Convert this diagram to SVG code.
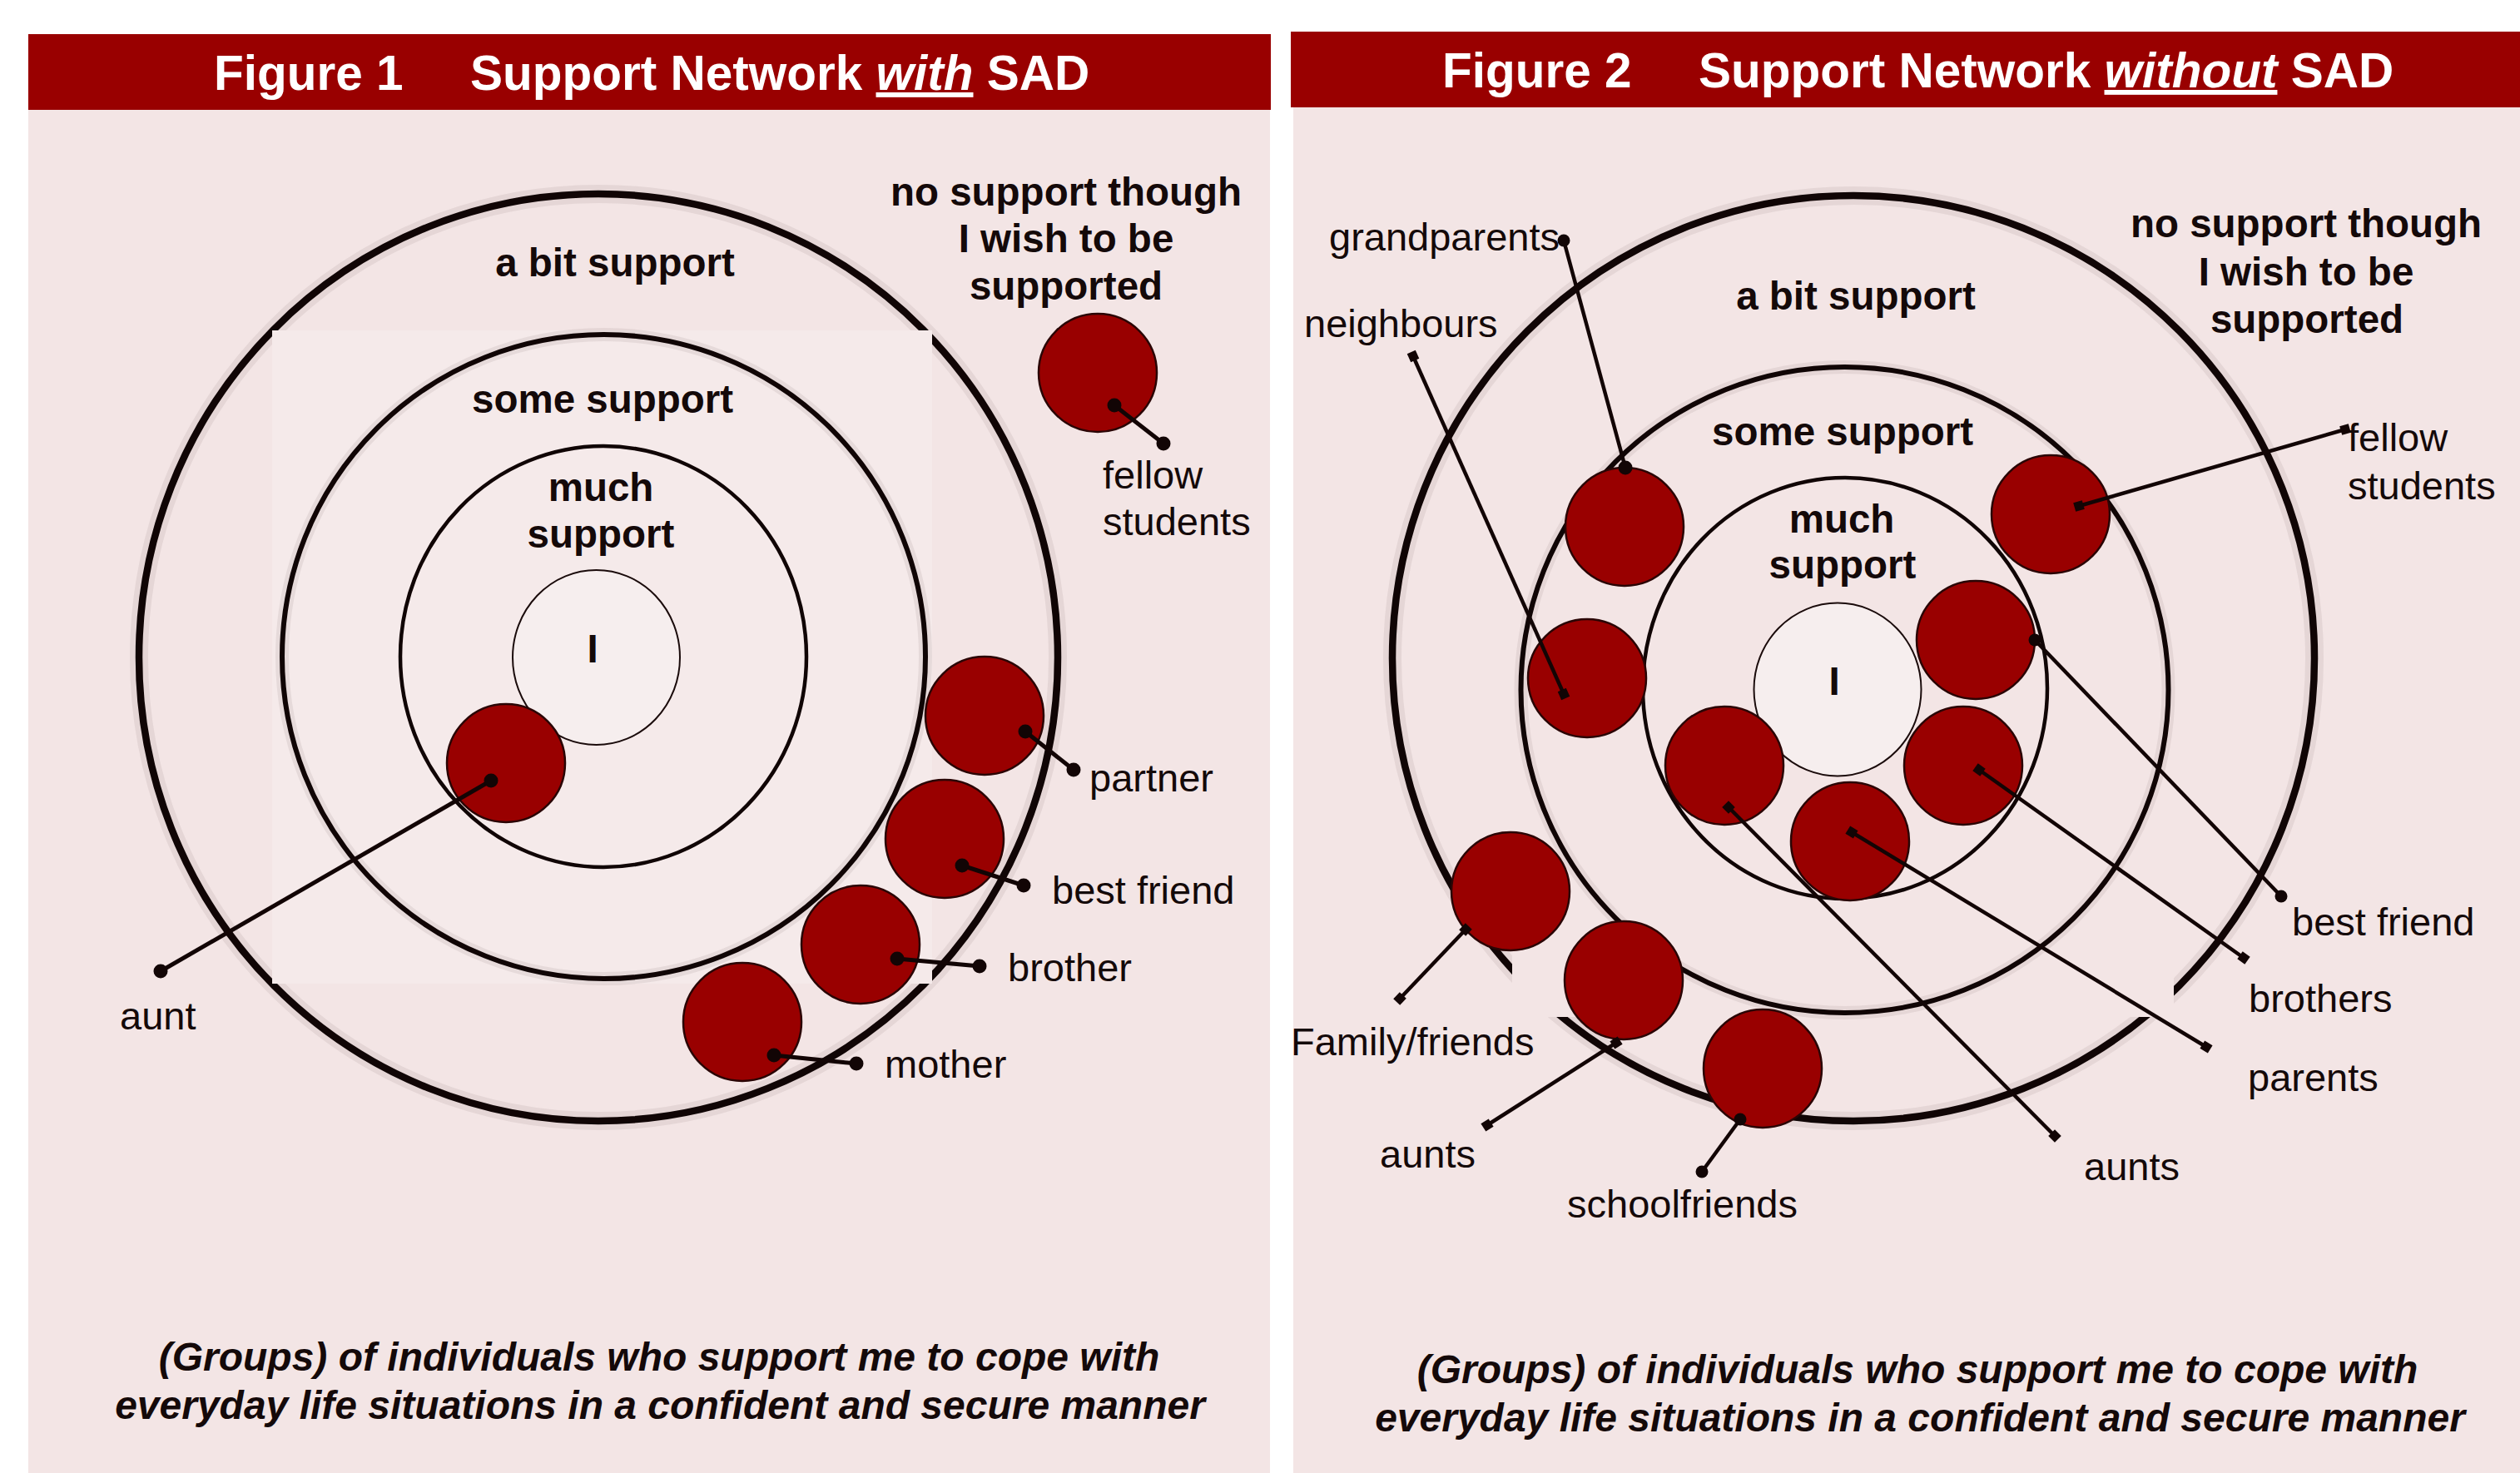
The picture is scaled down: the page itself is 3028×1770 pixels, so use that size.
<svg xmlns="http://www.w3.org/2000/svg" width="3028" height="1770" viewBox="0 0 3028 1770">
  <style>
    .panel { fill: #F3E5E5; }
    .patch { fill: #F5EAEA; }
    .bar { fill: #990000; }
    .hdr { font-family: "Liberation Sans", Arial, sans-serif; font-weight: bold; font-size: 58.5px; fill: #FFFFFF; }
    .zone { font-family: "Liberation Sans", Arial, sans-serif; font-weight: bold; font-size: 47.5px; fill: #140909; text-anchor: middle; }
    .lbl { font-family: "Liberation Sans", Arial, sans-serif; font-size: 47px; fill: #140909; }
    .cap { font-family: "Liberation Sans", Arial, sans-serif; font-weight: bold; font-style: italic; font-size: 48px; fill: #140909; text-anchor: middle; }
    .ring { fill: none; stroke: #100505; }
    .halo { fill: none; stroke: #5a4444; stroke-opacity: 0.09; }
    .self { fill: #F6EEEE; stroke: #1a0b0b; stroke-width: 2; }
    .person { fill: #990000; stroke: #2a0505; stroke-width: 2.5; }
    .link1 { fill: none; stroke: #120505; stroke-width: 5; }
    .link2 { fill: none; stroke: #120505; stroke-width: 4.5; }
  </style>
  <defs>
    <marker id="dotL" viewBox="-10 -10 20 20" markerWidth="20" markerHeight="20" markerUnits="userSpaceOnUse" refX="0" refY="0">
      <circle r="8.5" fill="#120505"/>
    </marker>
    <marker id="dotS" viewBox="-10 -10 20 20" markerWidth="20" markerHeight="20" markerUnits="userSpaceOnUse" refX="0" refY="0">
      <circle r="7.5" fill="#120505"/>
    </marker>
    <marker id="sq" viewBox="-8 -8 16 16" markerWidth="16" markerHeight="16" markerUnits="userSpaceOnUse" refX="0" refY="0" orient="auto">
      <rect x="-5.5" y="-5.5" width="11" height="11" fill="#120505"/>
    </marker>
  </defs>

  <rect width="3028" height="1770" fill="#FFFFFF"/>

  <!-- ===== Figure 1 ===== -->
  <g id="figure1">
    <rect class="panel" x="34" y="132" width="1492" height="1638"/>
    <g id="fig1-header">
      <rect class="bar" x="34" y="41" width="1493" height="91"/>
      <text class="hdr" x="257" y="108">Figure 1</text>
      <text class="hdr" x="565" y="108">Support Network <tspan font-style="italic" text-decoration="underline">with</tspan> SAD</text>
    </g>

    <g id="fig1-zone-abit">
      <ellipse class="halo" cx="719" cy="790" rx="552" ry="557" stroke-width="22"/>
      <ellipse class="ring" cx="719" cy="790" rx="552" ry="557" stroke-width="8.5"/>
      <text class="zone" x="739" y="332">a bit support</text>
    </g>
    <rect class="patch" x="327" y="397" width="793" height="785"/>
    <g id="fig1-zone-some">
      <ellipse class="halo" cx="725.5" cy="789" rx="386.5" ry="387" stroke-width="16"/>
      <ellipse class="ring" cx="725.5" cy="789" rx="386.5" ry="387" stroke-width="6"/>
      <text class="zone" x="724" y="496">some support</text>
    </g>
    <g id="fig1-zone-much">
      <ellipse class="ring" cx="725" cy="789" rx="244" ry="253" stroke-width="4.5"/>
      <text class="zone" x="722" y="602">much</text>
      <text class="zone" x="722" y="658">support</text>
    </g>
    <g id="fig1-self">
      <ellipse class="self" cx="716.5" cy="790" rx="100.5" ry="105"/>
      <text class="zone" x="712" y="796">I</text>
    </g>
    <g id="fig1-nosupport">
      <text class="zone" x="1281" y="247">no support though</text>
      <text class="zone" x="1281" y="303">I wish to be</text>
      <text class="zone" x="1281" y="360">supported</text>
    </g>

    <g id="fig1-aunt">
      <circle class="person" cx="608" cy="917" r="71"/>
      <text class="lbl" x="144" y="1237">aunt</text>
    </g>
    <g id="fig1-fellow-students">
      <circle class="person" cx="1319" cy="448" r="71"/>
      <text class="lbl" x="1325" y="587">fellow</text>
      <text class="lbl" x="1325" y="643">students</text>
    </g>
    <g id="fig1-partner">
      <circle class="person" cx="1183" cy="860" r="71"/>
      <text class="lbl" x="1309" y="951">partner</text>
    </g>
    <g id="fig1-best-friend">
      <circle class="person" cx="1135" cy="1008" r="71"/>
      <text class="lbl" x="1264" y="1086">best friend</text>
    </g>
    <g id="fig1-brother">
      <circle class="person" cx="1034" cy="1135" r="71"/>
      <text class="lbl" x="1211" y="1179">brother</text>
    </g>
    <g id="fig1-mother">
      <circle class="person" cx="892" cy="1228" r="71"/>
      <text class="lbl" x="1063" y="1295">mother</text>
    </g>

    <g id="fig1-connectors">
      <line class="link1" x1="590" y1="938" x2="193" y2="1167" marker-start="url(#dotL)" marker-end="url(#dotL)"/>
      <line class="link1" x1="1339" y1="487" x2="1398" y2="533" marker-start="url(#dotL)" marker-end="url(#dotL)"/>
      <line class="link1" x1="1232" y1="879" x2="1290" y2="925" marker-start="url(#dotL)" marker-end="url(#dotL)"/>
      <line class="link1" x1="1156" y1="1040" x2="1230" y2="1064" marker-start="url(#dotL)" marker-end="url(#dotL)"/>
      <line class="link1" x1="1078" y1="1152" x2="1177" y2="1161" marker-start="url(#dotL)" marker-end="url(#dotL)"/>
      <line class="link1" x1="930" y1="1268" x2="1029" y2="1278" marker-start="url(#dotL)" marker-end="url(#dotL)"/>
    </g>

    <g id="fig1-caption">
      <text class="cap" x="792" y="1647">(Groups) of individuals who support me to cope with</text>
      <text class="cap" x="793" y="1705">everyday life situations in a confident and secure manner</text>
    </g>
  </g>

  <!-- ===== Figure 2 ===== -->
  <g id="figure2">
    <rect class="panel" x="1554" y="129" width="1474" height="1641"/>
    <g id="fig2-header">
      <rect class="bar" x="1551" y="38" width="1477" height="91"/>
      <text class="hdr" x="1733" y="105">Figure 2</text>
      <text class="hdr" x="2041" y="105">Support Network <tspan font-style="italic" text-decoration="underline">without</tspan> SAD</text>
    </g>

    <g id="fig2-zone-abit">
      <ellipse class="halo" cx="2227" cy="791" rx="554" ry="556" stroke-width="22"/>
      <ellipse class="ring" cx="2227" cy="791" rx="554" ry="556" stroke-width="8.5"/>
      <text class="zone" x="2230" y="372">a bit support</text>
    </g>
    <rect class="panel" x="1817" y="1100" width="795" height="122"/>
    <g id="fig2-zone-some">
      <ellipse class="halo" cx="2216.5" cy="829" rx="389" ry="388" stroke-width="16"/>
      <ellipse class="ring" cx="2216.5" cy="829" rx="389" ry="388" stroke-width="6"/>
      <text class="zone" x="2214" y="535">some support</text>
    </g>
    <g id="fig2-zone-much">
      <ellipse class="ring" cx="2217" cy="827" rx="243" ry="253" stroke-width="4.5"/>
      <text class="zone" x="2213" y="640">much</text>
      <text class="zone" x="2214" y="695">support</text>
    </g>
    <g id="fig2-self">
      <ellipse class="self" cx="2208" cy="828.5" rx="100.5" ry="104"/>
      <text class="zone" x="2204" y="835">I</text>
    </g>
    <g id="fig2-nosupport">
      <text class="zone" x="2771" y="285">no support though</text>
      <text class="zone" x="2771" y="343">I wish to be</text>
      <text class="zone" x="2772" y="400">supported</text>
    </g>

    <g id="fig2-grandparents">
      <circle class="person" cx="1952" cy="633" r="71"/>
      <text class="lbl" x="1597" y="301">grandparents</text>
    </g>
    <g id="fig2-neighbours">
      <circle class="person" cx="1907" cy="815" r="71"/>
      <text class="lbl" x="1567" y="405">neighbours</text>
    </g>
    <g id="fig2-fellow-students">
      <circle class="person" cx="2464" cy="618" r="71"/>
      <text class="lbl" x="2821" y="542">fellow</text>
      <text class="lbl" x="2821" y="600">students</text>
    </g>
    <g id="fig2-best-friend">
      <circle class="person" cx="2374" cy="769" r="71"/>
      <text class="lbl" x="2754" y="1124">best friend</text>
    </g>
    <g id="fig2-brothers">
      <circle class="person" cx="2359" cy="920" r="71"/>
      <text class="lbl" x="2702" y="1216">brothers</text>
    </g>
    <g id="fig2-parents">
      <circle class="person" cx="2223" cy="1011" r="71"/>
      <text class="lbl" x="2701" y="1311">parents</text>
    </g>
    <g id="fig2-aunts-inner">
      <circle class="person" cx="2072" cy="920" r="71"/>
      <text class="lbl" x="2504" y="1418">aunts</text>
    </g>
    <g id="fig2-family-friends">
      <circle class="person" cx="1815" cy="1071" r="71"/>
      <text class="lbl" x="1551" y="1268">Family/friends</text>
    </g>
    <g id="fig2-aunts-outer">
      <circle class="person" cx="1951" cy="1178" r="71"/>
      <text class="lbl" x="1658" y="1403">aunts</text>
    </g>
    <g id="fig2-schoolfriends">
      <circle class="person" cx="2118" cy="1284" r="71"/>
      <text class="lbl" x="1883" y="1463">schoolfriends</text>
    </g>

    <g id="fig2-connectors">
      <line class="link2" x1="1879" y1="289" x2="1953" y2="562" marker-start="url(#dotS)" marker-end="url(#dotL)"/>
      <line class="link2" x1="1698" y1="428" x2="1879" y2="834" marker-start="url(#sq)" marker-end="url(#sq)"/>
      <line class="link2" x1="2498" y1="608" x2="2818" y2="516" marker-start="url(#sq)" marker-end="url(#sq)"/>
      <line class="link2" x1="2445" y1="769" x2="2741" y2="1077" marker-start="url(#dotS)" marker-end="url(#dotS)"/>
      <line class="link2" x1="2378" y1="925" x2="2696" y2="1151" marker-start="url(#sq)" marker-end="url(#sq)"/>
      <line class="link2" x1="2225" y1="1000" x2="2651" y2="1258" marker-start="url(#sq)" marker-end="url(#sq)"/>
      <line class="link2" x1="2077" y1="970" x2="2469" y2="1365" marker-start="url(#sq)" marker-end="url(#sq)"/>
      <line class="link2" x1="1761" y1="1117" x2="1682" y2="1200" marker-start="url(#sq)" marker-end="url(#sq)"/>
      <line class="link2" x1="1942" y1="1253" x2="1787" y2="1352" marker-start="url(#sq)" marker-end="url(#sq)"/>
      <line class="link2" x1="2091" y1="1345" x2="2045" y2="1408" marker-start="url(#dotS)" marker-end="url(#dotS)"/>
    </g>

    <g id="fig2-caption">
      <text class="cap" x="2304" y="1662">(Groups) of individuals who support me to cope with</text>
      <text class="cap" x="2307" y="1720">everyday life situations in a confident and secure manner</text>
    </g>
  </g>
</svg>
